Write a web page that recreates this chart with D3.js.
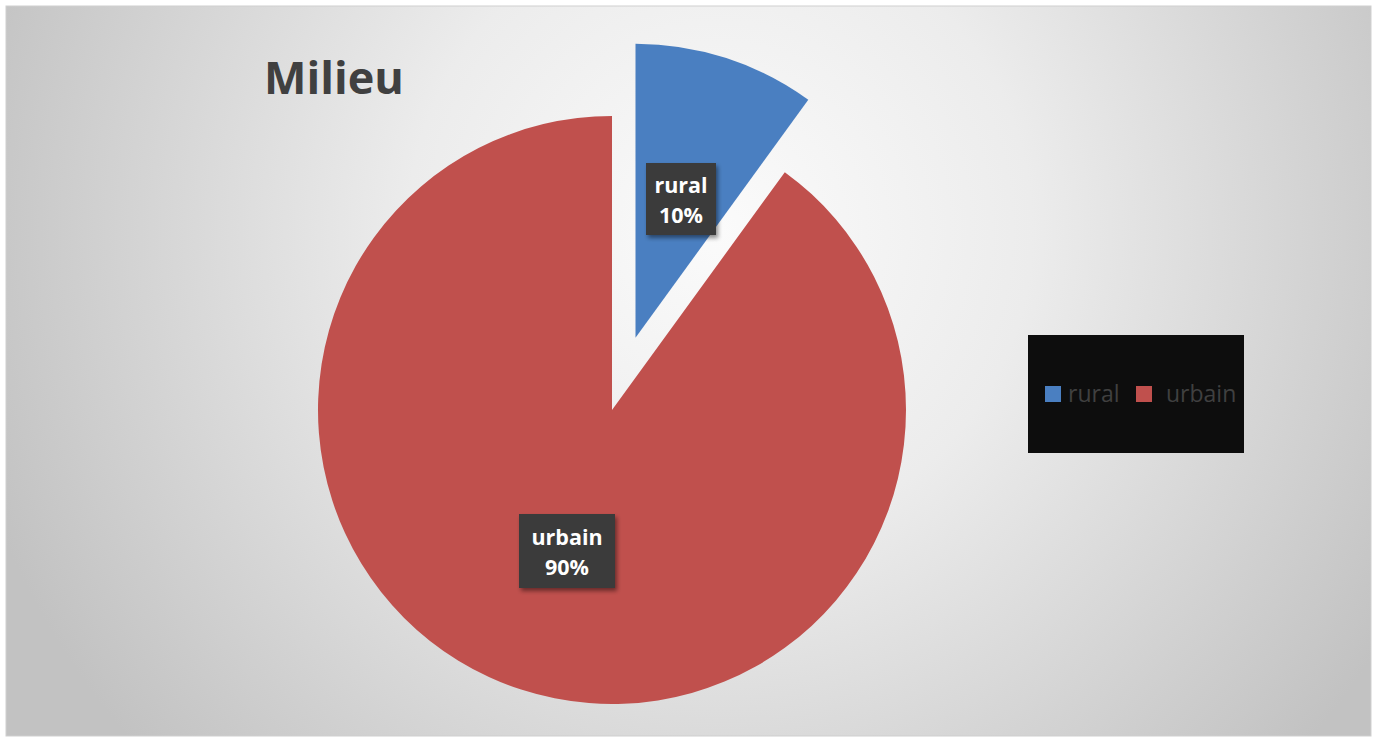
<!DOCTYPE html>
<html>
<head>
<meta charset="utf-8">
<script src="https://cdn.jsdelivr.net/npm/d3@7/dist/d3.min.js"></script>
<style>
  html, body { margin: 0; padding: 0; background: #ffffff; }
  svg { display: block; }
</style>
</head>
<body>
<svg id="chart" width="1375" height="737"></svg>
<script>
// Population by setting (milieu)
const categories = ["rural", "urbain"];
const shares = [10, 90];
const colors = ["#4a7fc1", "#c0504d"];
const title = "Milieu";

const svg = d3.select("#chart");
const FONT = "'Open Sans', Lato, sans-serif";

// Chart frame with radial grey gradient
const defs = svg.append("defs");
const grad = defs.append("radialGradient")
  .attr("id", "bg")
  .attr("gradientUnits", "userSpaceOnUse")
  .attr("cx", 720).attr("cy", 230).attr("r", 780);
grad.append("stop").attr("offset", "0%").attr("stop-color", "#fbfbfb");
grad.append("stop").attr("offset", "40%").attr("stop-color", "#ececec");
grad.append("stop").attr("offset", "100%").attr("stop-color", "#c2c2c2");

const shadow = defs.append("filter").attr("id", "shadow")
  .attr("x", "-20%").attr("y", "-20%").attr("width", "150%").attr("height", "150%");
shadow.append("feDropShadow")
  .attr("dx", 2).attr("dy", 3).attr("stdDeviation", 2)
  .attr("flood-color", "#000").attr("flood-opacity", 0.45);

svg.append("rect")
  .attr("x", 6).attr("y", 6).attr("width", 1365).attr("height", 730)
  .attr("fill", "url(#bg)")
  .attr("stroke", "#cfcfcf").attr("stroke-width", 1);

// Title
svg.append("text")
  .attr("x", 264).attr("y", 94)
  .attr("font-family", FONT)
  .attr("font-weight", 700)
  .attr("font-size", 45)
  .attr("fill", "#404040")
  .text(title);

// Pie
const cx = 612, cy = 410, R = 294;
const explode = [76, 0];
const data = categories.map((c, i) => ({ name: c, value: shares[i], color: colors[i], explode: explode[i] }));

const pie = d3.pie().value(d => d.value).sort(null);
const arc = d3.arc().innerRadius(0).outerRadius(R);
const arcs = pie(data);

const g = svg.append("g").attr("transform", `translate(${cx},${cy})`);

function offsetOf(a) {
  const mid = (a.startAngle + a.endAngle) / 2;
  return [Math.sin(mid) * a.data.explode, -Math.cos(mid) * a.data.explode];
}

g.selectAll("path.slice")
  .data(arcs)
  .join("path")
  .attr("class", "slice")
  .attr("transform", a => `translate(${offsetOf(a)})`)
  .attr("d", arc)
  .attr("fill", a => a.data.color);

// Data labels (dark boxes)
const labelPos = [
  { x: 681, y: 199, w: 70, h: 72 },
  { x: 567, y: 551, w: 96, h: 74 }
];
const labels = svg.append("g");
arcs.forEach((a, i) => {
  const p = labelPos[i];
  const lg = labels.append("g");
  lg.append("rect")
    .attr("x", p.x - p.w / 2).attr("y", p.y - p.h / 2)
    .attr("width", p.w).attr("height", p.h)
    .attr("fill", "#3b3b3b")
    .attr("filter", "url(#shadow)");
  const t = lg.append("text")
    .attr("text-anchor", "middle")
    .attr("font-family", FONT)
    .attr("font-weight", 700)
    .attr("font-size", 21.5)
    .attr("fill", "#ffffff");
  t.append("tspan").attr("x", p.x).attr("y", p.y - 6).text(a.data.name);
  t.append("tspan").attr("x", p.x).attr("y", p.y + 24).text(a.data.value + "%");
});

// Legend
const legend = svg.append("g");
legend.append("rect")
  .attr("x", 1028).attr("y", 335).attr("width", 216).attr("height", 118)
  .attr("fill", "#0d0d0d");
const legendItems = [
  { x: 1045, tx: 1068 },
  { x: 1136, tx: 1166 }
];
data.forEach((d, i) => {
  legend.append("rect")
    .attr("x", legendItems[i].x).attr("y", 386)
    .attr("width", 16).attr("height", 16)
    .attr("fill", d.color);
  legend.append("text")
    .attr("x", legendItems[i].tx).attr("y", 402)
    .attr("font-family", FONT)
    .attr("font-size", 23)
    .attr("fill", "#404040")
    .text(d.name);
});
</script>
</body>
</html>
